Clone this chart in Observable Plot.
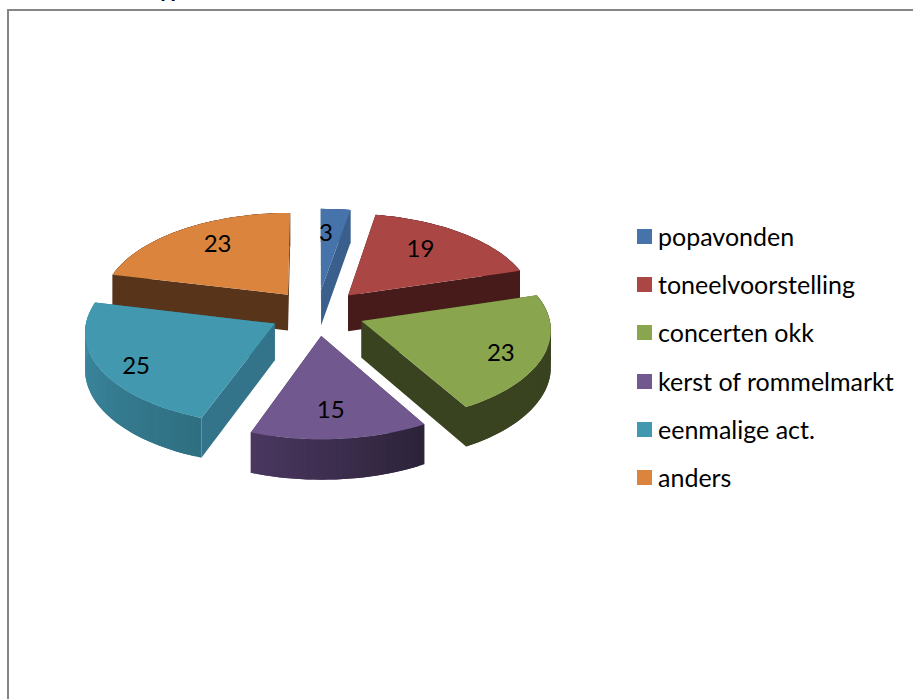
<!DOCTYPE html>
<html>
<head>
<meta charset="utf-8">
<script src="https://cdn.jsdelivr.net/npm/d3@7"></script>
<script src="https://cdn.jsdelivr.net/npm/@observablehq/plot@0.6"></script>
<style>
  html, body { margin: 0; padding: 0; background: #fff; overflow: hidden; }
  #page { position: relative; width: 913px; height: 699px; overflow: hidden; font-family: Lato, "Noto Sans", sans-serif; }
  #frame { position: absolute; left: 7px; top: 9px; width: 1000px; height: 800px; border: 2px solid #868686; box-sizing: border-box; }
  #clipped { position: absolute; left: 159px; top: -24px; font-size: 22px; font-weight: 700; line-height: 26px; color: #000; }
  #chart { position: absolute; left: 0; top: 0; }
  #chart svg { display: block; }
  .row { position: absolute; left: 637px; height: 15px; }
  .sw { position: absolute; left: 0; top: 0; width: 15px; height: 15px; }
  .lb { position: absolute; left: 21px; top: -8px; font-size: 25px; line-height: 30px; white-space: nowrap; color: #000; }
</style>
</head>
<body>
<div id="page">
  <div id="frame"></div>
  <div id="clipped">yp</div>
  <div id="chart"></div>
  <div id="legend"></div>
</div>
<script>
// --- chart values
const categories = ["popavonden", "toneelvoorstelling", "concerten okk", "kerst of rommelmarkt", "eenmalige act.", "anders"];
const values = [3, 19, 23, 15, 25, 23];

// --- colours per slice
const topColors  = ["#4674AA", "#AA4643", "#89A54E", "#71588F", "#4198AF", "#DB843D"];
const cutColors  = ["#3A5F8C", "#471B1A", "#39431F", "#2C2339", "#33748A", "#57341A"];
const wallStart  = ["#3A5F8C", "#471B1A", "#39431F", "#2C2339", "#2F6F82", "#57341A"];
const wallEnd    = ["#3A5F8C", "#471B1A", "#39431F", "#4A3760", "#3F8FA8", "#57341A"];

// --- where each number sits on its slice: fraction of the radius, fraction of the sweep
const labelRadius = [0.68, 0.69, 0.79, 0.74, 0.83, 0.72];
const labelSweep  = [0.25, 0.43, 0.55, 0.53, 0.45, 0.55];

// --- 3-D view of the pie
const explode = 0.254;   // slice pull-out, in radii
const thickness = 0.40;  // wall height, in y units
const perspective = 0.08;
const drawOrder = [0, 1, 5, 2, 4, 3];
const W = 913, H = 699;
const pxX = 187, pxY = 91, cx = 316.5, cy = 312;

const arcs = d3.pie().sort(null)(values);

function project(i, angle, r, drop) {
  const a = arcs[i];
  const mid = (a.startAngle + a.endAngle) / 2;
  const X = Math.sin(angle) * r + explode * Math.sin(mid);
  const Y = -Math.cos(angle) * r - explode * Math.cos(mid);
  const s = 1 / (1 - perspective * Y);
  return {x: X * s, y: (Y + drop) * s};
}

const polys = [];
function addPoly(id, color, pts) {
  pts.forEach(p => polys.push({id, color, x: p.x, y: p.y}));
}

drawOrder.forEach(i => {
  const a = arcs[i];
  const steps = Math.max(4, Math.round((a.endAngle - a.startAngle) / (Math.PI / 90)));
  const ang = d3.range(steps + 1).map(k => a.startAngle + (a.endAngle - a.startAngle) * k / steps);
  const shade = d3.interpolateRgb(wallStart[i], wallEnd[i]);
  // the two cut faces, behind the outer wall
  [a.startAngle, a.endAngle].forEach((t, k) => {
    addPoly(`c${i}-${k}`, cutColors[i], [
      project(i, t, 0, 0), project(i, t, 1, 0),
      project(i, t, 1, thickness), project(i, t, 0, thickness)
    ]);
  });
  // outer wall in shaded strips, each one overlapping the next so that no seam shows
  ang.slice(0, -1).forEach((t, k) => {
    const between = ang.slice(k, Math.min(k + 2, steps) + 1);
    addPoly(`w${i}-${k}`, shade(k / (steps - 1)), [
      ...between.map(u => project(i, u, 1, 0)),
      ...between.slice().reverse().map(u => project(i, u, 1, thickness))
    ]);
  });
  // top face
  addPoly(`t${i}`, topColors[i], [project(i, 0, 0, 0), ...ang.map(t => project(i, t, 1, 0))]);
});

const labels = arcs.map((a, i) => {
  const t = a.startAngle + (a.endAngle - a.startAngle) * labelSweep[i];
  return {...project(i, t, labelRadius[i], 0), text: String(values[i])};
});

const chart = Plot.plot({
  width: W, height: H,
  margin: 0,
  style: {background: "transparent"},
  x: {axis: null, domain: [-cx / pxX, (W - cx) / pxX], range: [0, W]},
  y: {axis: null, domain: [-cy / pxY, (H - cy) / pxY], range: [0, H]},
  color: {type: "identity"},
  marks: [
    Plot.line(polys, {x: "x", y: "y", z: "id", fill: "color", stroke: null, curve: "linear-closed"}),
    Plot.text(labels, {x: "x", y: "y", text: "text", fontSize: 24, fontFamily: "Lato, sans-serif", fill: "#000"})
  ]
});
document.getElementById("chart").appendChild(chart);

// --- legend
const legend = document.getElementById("legend");
categories.forEach((c, i) => {
  const row = document.createElement("div");
  row.className = "row";
  row.style.top = (229 + i * 48.2) + "px";
  row.innerHTML = `<div class="sw" style="background:${topColors[i]}"></div><div class="lb">${c}</div>`;
  legend.appendChild(row);
});
</script>
</body>
</html>
